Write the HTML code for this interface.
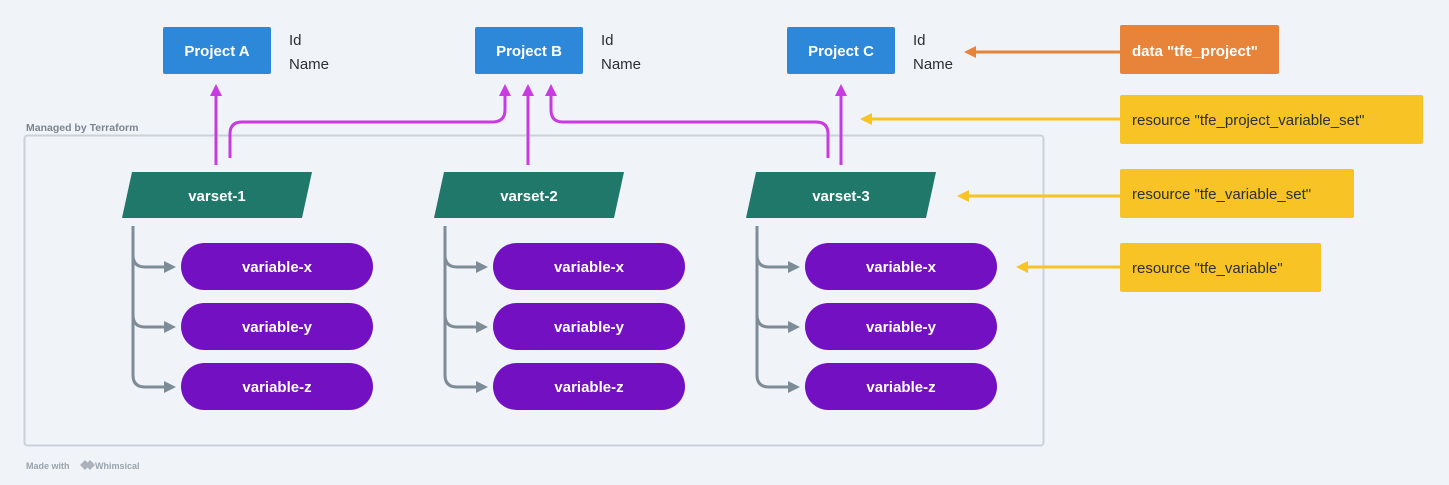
<!DOCTYPE html>
<html><head><meta charset="utf-8"><style>
html,body{margin:0;padding:0;background:#f0f3f7;}
svg{display:block;font-family:"Liberation Sans",sans-serif;}
.w{fill:#fff;font-weight:bold;font-size:15px;text-anchor:middle;}
.d{fill:#2b2f36;font-size:15px;}
</style></head><body>
<svg width="1449" height="485" viewBox="0 0 1449 485">
<defs>
<marker id="mg" viewBox="0 0 10 10" refX="5" refY="5" markerWidth="4" markerHeight="4" orient="auto"><path d="M0,0L10,5L0,10z" fill="#c73be0"/></marker>
<marker id="gr" viewBox="0 0 10 10" refX="5" refY="5" markerWidth="4" markerHeight="4" orient="auto"><path d="M0,0L10,5L0,10z" fill="#7e8c98"/></marker>
<marker id="yl" viewBox="0 0 10 10" refX="5" refY="5" markerWidth="4" markerHeight="4" orient="auto"><path d="M0,0L10,5L0,10z" fill="#f7c325"/></marker>
<marker id="or" viewBox="0 0 10 10" refX="5" refY="5" markerWidth="4" markerHeight="4" orient="auto"><path d="M0,0L10,5L0,10z" fill="#e8843a"/></marker>
</defs>
<rect x="24.5" y="135.5" width="1019" height="310" rx="3" fill="none" stroke="#c9d2db" stroke-width="2"/>
<text x="26" y="131" font-size="10.5" font-weight="bold" fill="#7a8590">Managed by Terraform</text>
<text x="26" y="469" font-size="9" font-weight="bold" fill="#9aa3ad">Made with</text>
<path d="M80,465 l5,-5 l5,5 l-5,5z M85,465 l5,-5 l5,5 l-5,5z" fill="#aab2bb"/>
<text x="95" y="469" font-size="9" font-weight="bold" fill="#9aa3ad">Whimsical</text>

<!-- projects -->
<g>
<rect x="163" y="27" width="108" height="47" rx="2" fill="#2d88d9"/><text class="w" x="217" y="56">Project A</text>
<rect x="475" y="27" width="108" height="47" rx="2" fill="#2d88d9"/><text class="w" x="529" y="56">Project B</text>
<rect x="787" y="27" width="108" height="47" rx="2" fill="#2d88d9"/><text class="w" x="841" y="56">Project C</text>
<text class="d" x="289" y="45">Id</text><text class="d" x="289" y="69">Name</text>
<text class="d" x="601" y="45">Id</text><text class="d" x="601" y="69">Name</text>
<text class="d" x="913" y="45">Id</text><text class="d" x="913" y="69">Name</text>
</g>

<!-- magenta connectors -->
<g fill="none" stroke="#c73be0" stroke-width="3">
<path d="M216,165 V90" marker-end="url(#mg)"/>
<path d="M230,158 V134 Q230,122 242,122 H492 Q505,122 505,110 V90" marker-end="url(#mg)"/>
<path d="M528,165 V90" marker-end="url(#mg)"/>
<path d="M828,158 V134 Q828,122 816,122 H563 Q551,122 551,110 V90" marker-end="url(#mg)"/>
<path d="M841,165 V90" marker-end="url(#mg)"/>
</g>

<!-- varsets -->
<g>
<path d="M132,172 H312 L302,218 H122 Z" fill="#20786a"/><text class="w" x="217" y="201">varset-1</text>
<path d="M444,172 H624 L614,218 H434 Z" fill="#20786a"/><text class="w" x="529" y="201">varset-2</text>
<path d="M756,172 H936 L926,218 H746 Z" fill="#20786a"/><text class="w" x="841" y="201">varset-3</text>
</g>

<!-- gray trees -->
<g fill="none" stroke="#7e8c98" stroke-width="3">
<g id="t">
<path d="M133,226 V375 Q133,387 145,387 H170" marker-end="url(#gr)"/>
<path d="M133,255 Q133,267 145,267 H170" marker-end="url(#gr)"/>
<path d="M133,315 Q133,327 145,327 H170" marker-end="url(#gr)"/>
</g>
<use href="#t" x="312"/>
<use href="#t" x="624"/>
</g>

<!-- variables -->
<g>
<g id="v">
<rect x="181" y="243" width="192" height="47" rx="23.5" fill="#7210c2"/><text class="w" x="277" y="272">variable-x</text>
<rect x="181" y="303" width="192" height="47" rx="23.5" fill="#7210c2"/><text class="w" x="277" y="332">variable-y</text>
<rect x="181" y="363" width="192" height="47" rx="23.5" fill="#7210c2"/><text class="w" x="277" y="392">variable-z</text>
</g>
<use href="#v" x="312"/>
<use href="#v" x="624"/>
</g>

<!-- right side -->
<g stroke-width="3" fill="none">
<path d="M1120,52 H970" stroke="#e8843a" marker-end="url(#or)"/>
<path d="M1120,119 H866" stroke="#f7c325" marker-end="url(#yl)"/>
<path d="M1120,196 H963" stroke="#f7c325" marker-end="url(#yl)"/>
<path d="M1120,267 H1022" stroke="#f7c325" marker-end="url(#yl)"/>
</g>
<rect x="1120" y="25" width="159" height="49" rx="2" fill="#e8843a"/>
<text x="1132" y="56" font-size="15" font-weight="bold" fill="#fff">data "tfe_project"</text>
<rect x="1120" y="95" width="303" height="49" rx="2" fill="#f7c325"/>
<text x="1132" y="125" class="d">resource "tfe_project_variable_set"</text>
<rect x="1120" y="169" width="234" height="49" rx="2" fill="#f7c325"/>
<text x="1132" y="199" class="d">resource "tfe_variable_set"</text>
<rect x="1120" y="243" width="201" height="49" rx="2" fill="#f7c325"/>
<text x="1132" y="273" class="d">resource "tfe_variable"</text>
</svg>
</body></html>
